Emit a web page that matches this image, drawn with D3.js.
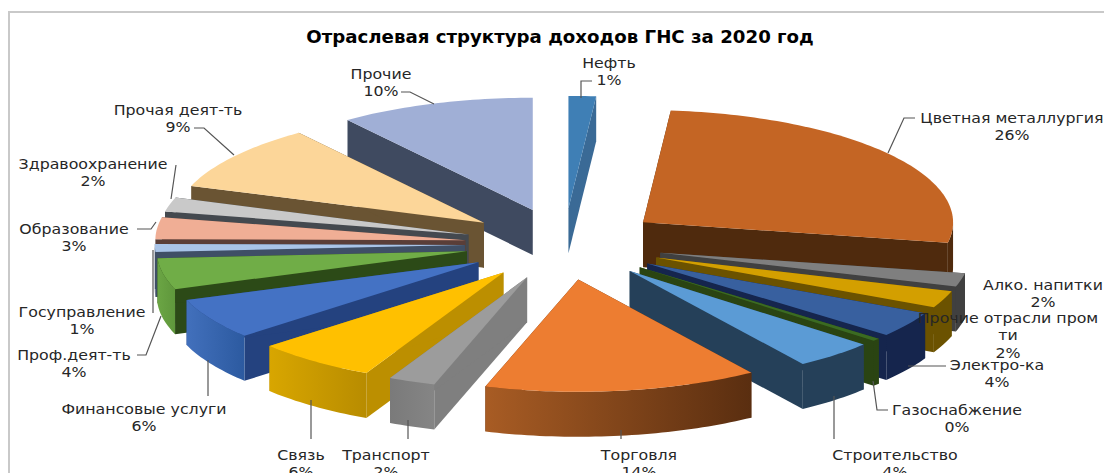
<!DOCTYPE html>
<html lang="ru">
<head>
<meta charset="utf-8">
<script src="https://cdnjs.cloudflare.com/ajax/libs/d3/7.8.5/d3.min.js"></script>
<style>
    html, body { margin: 0; padding: 0; background: #fff; overflow: hidden; }
    svg { display: block; }
    text { font-family: "DejaVu Sans", sans-serif; fill: #262626; }
</style>
</head>
<body>
<div id="chart"></div>
<script>
const title = 'Отраслевая структура доходов ГНС за 2020 год';

// Data, in the order the pie runs clockwise from 12 o'clock
const categories = ['Нефть', 'Цветная металлургия', 'Алко. напитки', 'Прочие отрасли пром\nти', 'Электро-ка',
    'Газоснабжение', 'Строительство', 'Торговля', 'Транспорт', 'Связь', 'Финансовые услуги',
    'Проф.деят-ть', 'Госуправление', 'Образование', 'Здравоохранение', 'Прочая деят-ть', 'Прочие'];
const shares = [1.4, 26.0, 1.9, 2.4, 3.6, 0.4, 4.1, 14.0, 2.4, 6.2, 5.8, 4.4, 1.1, 3.1, 2.0, 9.3, 10.0];

// Face colours per slice
const topColors = ['#3f7fb5', '#c46524', '#7f7f7f', '#d39f00', '#38609f', '#3b6b22', '#5b9bd5', '#ed7d31', '#9c9c9c',
    '#ffc000', '#4472c4', '#70ad47', '#a9c4e8', '#f0ae95', '#c9c9c9', '#fcd699', '#a0afd6'];
const sideColors = ['#3a6a96', '#4f2a0d', '#404040', '#6b5200', '#15254d', '#2a4412', '#254059', '#5c2f10', '#7f7f7f',
    '#bc8f00', '#24427f', '#2c4a17', '#3f4f66', '#5a3e38', '#44494f', '#6a5433', '#3f4a60'];
const wallFrom = ['#3a6a96', '#4f2a0d', '#404040', '#6b5200', '#15254d', '#2a4412', '#254059', '#a85c24', '#7a7a7a',
    '#d8a600', '#4270bc', '#6ba544', '#3f4f66', '#5a3e38', '#44494f', '#6a5433', '#3f4a60'];
const wallTo = ['#3a6a96', '#4f2a0d', '#404040', '#6b5200', '#15254d', '#2a4412', '#254059', '#5a2e10', '#858585',
    '#b88c00', '#2c5aa0', '#5f973c', '#3f4f66', '#5a3e38', '#44494f', '#6a5433', '#3f4a60'];

// Label layout: centre x, first line y, leader polyline
const labelLayout = [
    { x: 609, y: 63, leader: [[581, 98], [581, 81], [592, 81]] },
    { x: 1012, y: 118, leader: [[888, 153], [904, 118], [915, 118]] },
    { x: 1043, y: 285, leader: [] },
    { x: 1008, y: 318, leader: [] },
    { x: 997, y: 365, leader: [[908, 366], [946, 366]] },
    { x: 957, y: 410, leader: [[873, 381], [877, 410], [888, 410]] },
    { x: 895, y: 455, leader: [[834, 396], [834, 439]] },
    { x: 639, y: 455, leader: [[621, 430], [621, 439]] },
    { x: 386, y: 455, leader: [[408, 420], [408, 439]] },
    { x: 301, y: 455, leader: [[311, 400], [311, 439]] },
    { x: 144, y: 409, leader: [[208, 360], [208, 396]] },
    { x: 74, y: 355, leader: [[161, 316], [146, 355], [137, 355]] },
    { x: 82, y: 312, leader: [[153, 250], [153, 313]] },
    { x: 74, y: 229, leader: [[137, 229], [151, 229], [156, 222]] },
    { x: 93, y: 164, leader: [[176, 165], [171, 199]] },
    { x: 178, y: 110, leader: [[194, 128], [204, 128], [234, 155]] },
    { x: 381, y: 74, leader: [[401, 92], [410, 92], [434, 104]] }
];

const width = 1104, height = 473;
const center = { x: 564, y: 244 };
const radius = 310, tilt = 0.362, depth = 45, explosion = 0.32;

const svg = d3.select('#chart').append('svg')
    .attr('width', width)
    .attr('height', height);

// Chart frame, runs off the right and bottom of the picture
svg.append('path')
    .attr('d', `M9,${height}V12H${width}`)
    .attr('fill', 'none')
    .attr('stroke', '#c9c9c9')
    .attr('stroke-width', 2);

// The source text is a little wider than DejaVu, so stretch it sideways
const stretched = (sel, x, y, sx) => sel
    .attr('transform', `translate(${x},${y}) scale(${sx},1)`)
    .attr('dy', '.35em')
    .attr('text-anchor', 'middle');

svg.append('text')
    .call(stretched, 560, 37, 1.07)
    .attr('font-size', 17)
    .attr('font-weight', 'bold')
    .style('fill', '#000')
    .text(title);

// Unit disc -> screen offsets
const xScale = d3.scaleLinear().domain([-1, 1]).range([-radius, radius]);
const yScale = d3.scaleLinear().domain([-1, 1]).range([-radius * tilt, radius * tilt]);

const pie = d3.pie().sort(null).value(d => d);
const arcs = pie(shares).map((d, i) => {
    const mid = (d.startAngle + d.endAngle) / 2;
    return {
        i,
        a0: d.startAngle,
        a1: d.endAngle,
        apex: [
            center.x + xScale(explosion * Math.sin(mid)),
            center.y + yScale(-explosion * Math.cos(mid))
        ]
    };
});

const rim = (s, a) => [s.apex[0] + xScale(Math.sin(a)), s.apex[1] + yScale(-Math.cos(a))];
const down = p => [p[0], p[1] + depth];
const outline = d3.line();

const sweep = (a0, a1) => {
    const n = Math.max(2, Math.ceil((a1 - a0) / 0.02));
    return d3.range(n + 1).map(k => a0 + (a1 - a0) * k / n);
};

const defs = svg.append('defs');
arcs.forEach(s => {
    const grad = defs.append('linearGradient').attr('id', `wall${s.i}`);
    grad.append('stop').attr('offset', '0%').attr('stop-color', wallFrom[s.i]);
    grad.append('stop').attr('offset', '100%').attr('stop-color', wallTo[s.i]);
});

// Painter's order: back slices first
const slices = svg.append('g');
arcs.slice().sort((a, b) => a.apex[1] - b.apex[1]).forEach(s => {
    const g = slices.append('g');

    // Radial cuts
    [s.a0, s.a1].forEach(a => {
        const p = rim(s, a);
        g.append('path')
            .attr('d', outline([s.apex, p, down(p), down(s.apex)]) + 'Z')
            .attr('fill', sideColors[s.i]);
    });

    // Outer wall, only the part that faces the viewer
    const w0 = Math.max(s.a0, Math.PI / 2), w1 = Math.min(s.a1, Math.PI * 1.5);
    if (w1 > w0) {
        const edge = sweep(w0, w1).map(a => rim(s, a));
        g.append('path')
            .attr('d', outline(edge.concat(edge.map(down).reverse())) + 'Z')
            .attr('fill', `url(#wall${s.i})`);
    }

    // Top face
    g.append('path')
        .attr('d', outline([s.apex].concat(sweep(s.a0, s.a1).map(a => rim(s, a)))) + 'Z')
        .attr('fill', topColors[s.i]);
});

// Leaders and labels
const labels = svg.append('g');
categories.forEach((name, i) => {
    const l = labelLayout[i];
    if (l.leader.length) {
        labels.append('path')
            .attr('d', outline(l.leader))
            .attr('fill', 'none')
            .attr('stroke', '#555')
            .attr('stroke-width', 1.2);
    }
    const lines = name.split('\n').concat(`${Math.round(shares[i])}%`);
    lines.forEach((line, k) => {
        labels.append('text')
            .call(stretched, l.x, l.y + k * 17.5, 1.13)
            .attr('font-size', 14)
            .text(line);
    });
});
</script>
</body>
</html>
